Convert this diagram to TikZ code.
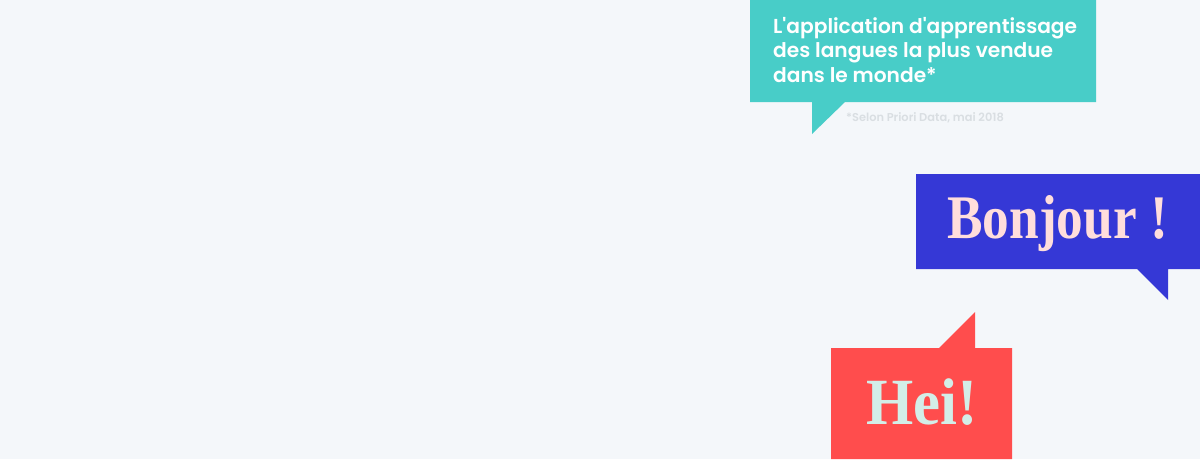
\documentclass[tikz,border=0pt]{standalone}
\usepackage{fontspec}
\setmainfont{Poppins}[BoldFont={Poppins SemiBold}]
\newfontfamily\dispserif{Liberation Serif}
\definecolor{bg}{HTML}{F4F7FA}
\definecolor{teal}{HTML}{48CDC8}
\definecolor{blueb}{HTML}{3538D6}
\definecolor{redb}{HTML}{FF4D4D}
\definecolor{pinkt}{HTML}{FFDEDC}
\definecolor{mintt}{HTML}{D3EEE8}
\definecolor{note}{HTML}{D9DEE2}
\tikzset{
  tealtxt/.style={anchor=base west, inner sep=0pt, text=white, font=\fontsize{20.2}{24}\selectfont\bfseries},
  notetxt/.style={anchor=base west, inner sep=0pt, text=note, font=\fontsize{11.4}{13}\selectfont\bfseries},
  bigtxt/.style={anchor=base west, inner sep=0pt, font=\dispserif\bfseries}
}
\begin{document}
\begin{tikzpicture}[x=1pt,y=-1pt]
\fill[bg] (0,0) rectangle (1200,459);
\useasboundingbox (0,0) rectangle (1200,459);
% teal bubble
\fill[teal] (750,0) -- (1096,0) -- (1096,102) -- (845,102) -- (812,134) -- (812,102) -- (750,102) -- cycle;
\node[tealtxt] (t1) at (773,33) {L\textquotesingle application d\textquotesingle apprentissage};
\node[tealtxt] (t2) at (773,57.5) {des langues la plus vendue};
\node[tealtxt] (t3) at (773,82) {dans le monde*};
\node[notetxt] (fn) at (846,121) {*Selon Priori Data, mai 2018};
% blue bubble
\fill[blueb] (916,174) -- (1200,174) -- (1200,269) -- (1168,269) -- (1168,300) -- (1137,269) -- (916,269) -- cycle;
\node[bigtxt, text=pinkt] (bj) at (947,238) {\scalebox{0.86}[1]{\fontsize{62}{70}\selectfont Bonjour !}};
% red bubble
\fill[redb] (831,348) -- (939,348) -- (975,312) -- (975,348) -- (1012,348) -- (1012,459) -- (831,459) -- cycle;
\node[bigtxt, text=mintt] (hei) at (866,424) {\scalebox{0.92}[1]{\fontsize{66}{72}\selectfont Hei!}};
\end{tikzpicture}
\end{document}
